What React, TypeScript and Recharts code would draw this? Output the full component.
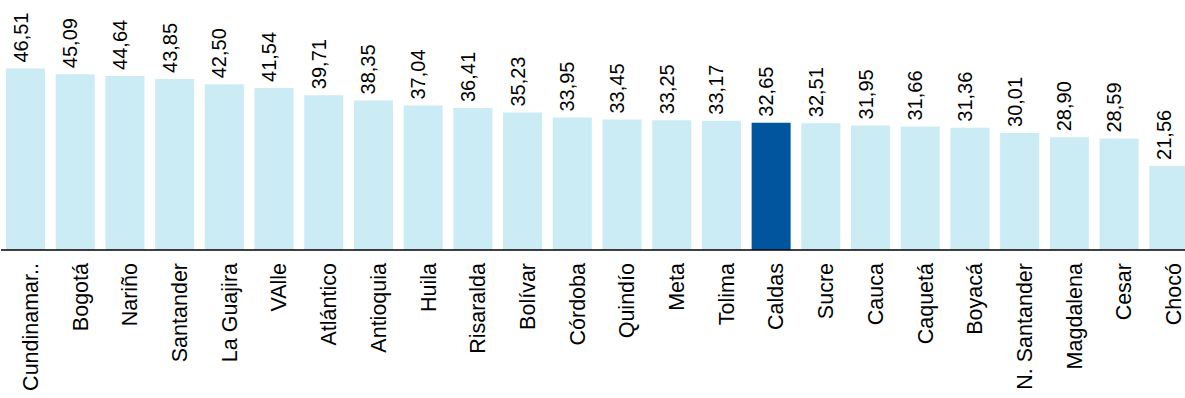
import { BarChart, Bar, XAxis, YAxis, Cell, LabelList } from 'recharts'

const departments = [
  'Cundinamar..', 'Bogotá', 'Nariño', 'Santander', 'La Guajira', 'VAlle', 'Atlántico', 'Antioquia',
  'Huila', 'Risaralda', 'Bolívar', 'Córdoba', 'Quindío', 'Meta', 'Tolima', 'Caldas',
  'Sucre', 'Cauca', 'Caquetá', 'Boyacá', 'N. Santander', 'Magdalena', 'Cesar', 'Chocó',
]
const values = [
  46.51, 45.09, 44.64, 43.85, 42.5, 41.54, 39.71, 38.35,
  37.04, 36.41, 35.23, 33.95, 33.45, 33.25, 33.17, 32.65,
  32.51, 31.95, 31.66, 31.36, 30.01, 28.9, 28.59, 21.56,
]
const highlighted = 'Caldas'

const data = departments.map((name, i) => ({ name, value: values[i] }))

const FONT = '"Liberation Sans", Arial, Helvetica, sans-serif'
const LIGHT = '#cbebf5'
const DARK = '#00559f'

const fmt = (v: number) => v.toFixed(2).replace('.', ',')

function CategoryTick(props: any) {
  const { x, y, payload } = props
  return (
    <text
      transform={`translate(${x + 12}, ${y + 5}) rotate(-90)`}
      textAnchor="end"
      fontSize={21.5}
      fontFamily={FONT}
      fill="#000"
    >
      {payload.value}
    </text>
  )
}

function ValueLabel(props: any) {
  const { x, y, width, value } = props
  return (
    <text
      transform={`translate(${x + width / 2 + 2}, ${y - 6}) rotate(-90)`}
      textAnchor="start"
      fontSize={20}
      fontFamily={FONT}
      fill="#000"
    >
      {fmt(value)}
    </text>
  )
}

export default function App() {
  return (
    <div style={{ position: 'absolute', left: 0, top: 0, width: 1185, height: 398, overflow: 'hidden', background: '#fff' }}>
      <BarChart
        width={1194}
        height={398}
        data={data}
        margin={{ top: 16, right: 0, left: 1, bottom: 0 }}
        barSize={39}
      >
        <XAxis
          dataKey="name"
          interval={0}
          height={148}
          tickLine={false}
          axisLine={{ stroke: '#000', strokeWidth: 1.5 }}
          tick={<CategoryTick />}
        />
        <YAxis hide domain={[0, 60]} />
        <Bar dataKey="value" isAnimationActive={false}>
          {data.map((d) => (
            <Cell key={d.name} fill={d.name === highlighted ? DARK : LIGHT} />
          ))}
          <LabelList dataKey="value" content={<ValueLabel />} />
        </Bar>
      </BarChart>
    </div>
  )
}
